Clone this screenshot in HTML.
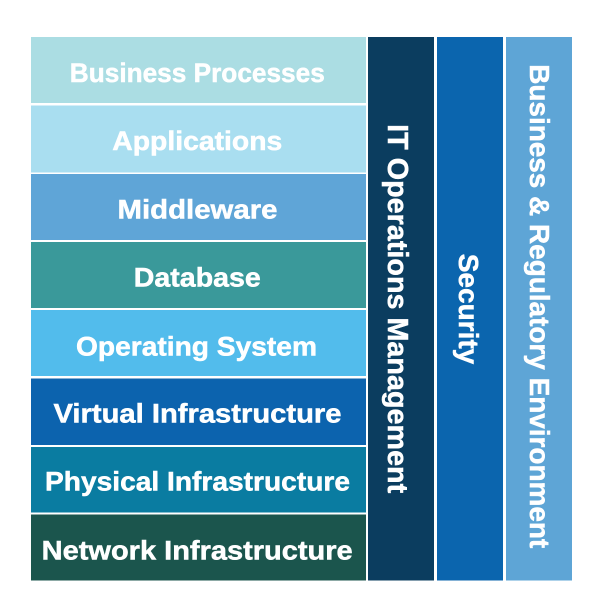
<!DOCTYPE html>
<html>
<head>
<meta charset="utf-8">
<style>
  html, body { margin: 0; padding: 0; background: #ffffff; }
  body { width: 600px; height: 616px; overflow: hidden; }
  svg { display: block; }
  text { font-family: "Liberation Sans", "DejaVu Sans", sans-serif; font-weight: bold; fill: #ffffff; stroke: #ffffff; stroke-width: 0.5; }
</style>
</head>
<body>
<svg width="600" height="616" viewBox="0 0 600 616" xmlns="http://www.w3.org/2000/svg">
  <rect x="0" y="0" width="600" height="616" fill="#ffffff"/>

  <!-- Left stack rows -->
  <rect x="31" y="37" width="335" height="66" fill="#abdde3"/>
  <rect x="31" y="105.5" width="335" height="67" fill="#a9def0"/>
  <rect x="31" y="174" width="335" height="66" fill="#5fa5d7"/>
  <rect x="31" y="242" width="335" height="66" fill="#3a999a"/>
  <rect x="31" y="310" width="335" height="66" fill="#52bcec"/>
  <rect x="31" y="378.5" width="335" height="66.5" fill="#0c63ae"/>
  <rect x="31" y="447" width="335" height="65.5" fill="#0a7ca1"/>
  <rect x="31" y="514.5" width="335" height="66" fill="#1b554d"/>

  <g font-size="27" text-anchor="middle">
    <text x="197.3" y="82" textLength="255" lengthAdjust="spacingAndGlyphs">Business Processes</text>
    <text x="197.3" y="150" textLength="170" lengthAdjust="spacingAndGlyphs">Applications</text>
    <text x="197.5" y="218.5" textLength="160" lengthAdjust="spacingAndGlyphs">Middleware</text>
    <text x="197.3" y="286.5" textLength="127" lengthAdjust="spacingAndGlyphs">Database</text>
    <text x="196.5" y="355.5" textLength="241" lengthAdjust="spacingAndGlyphs">Operating System</text>
    <text x="197.5" y="422.5" textLength="288" lengthAdjust="spacingAndGlyphs">Virtual Infrastructure</text>
    <text x="197.5" y="490.5" textLength="305" lengthAdjust="spacingAndGlyphs">Physical Infrastructure</text>
    <text x="197.2" y="559.5" textLength="311" lengthAdjust="spacingAndGlyphs">Network Infrastructure</text>
  </g>

  <!-- Vertical columns -->
  <rect x="368" y="37" width="66" height="543.5" fill="#0b3d5f"/>
  <rect x="437" y="37" width="66" height="543.5" fill="#0b65ae"/>
  <rect x="506" y="37" width="66" height="543.5" fill="#5ea5d6"/>

  <text font-size="29" text-anchor="middle" textLength="369" lengthAdjust="spacingAndGlyphs" transform="translate(388,308.7) rotate(90)">IT Operations Management</text>
  <text font-size="28" text-anchor="middle" transform="translate(459,309) rotate(90)">Security</text>
  <text font-size="28" text-anchor="middle" textLength="484" lengthAdjust="spacingAndGlyphs" transform="translate(530,306.2) rotate(90)">Business &amp; Regulatory Environment</text>
</svg>
</body>
</html>
